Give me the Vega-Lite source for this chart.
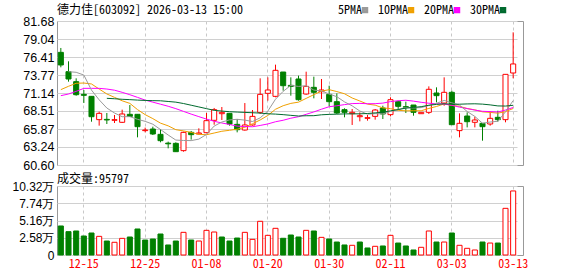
{
  "$schema": "https://vega.github.io/schema/vega-lite/v6.json",
  "padding": {"left": 0, "top": 3, "right": 0, "bottom": 0},
  "background": "white",
  "spacing": 0,
  "config": {
    "view": {"stroke": "#999999", "strokeWidth": 1},
    "axis": {"labelFont": "Liberation Sans", "labelFontSize": 12, "labelColor": "#000000", "ticks": false, "domain": false, "title": null, "labelOverlap": false},
    "title": {"font": "Noto Sans Mono CJK SC, Liberation Mono", "fontSize": 12, "fontWeight": "normal", "color": "#000000", "anchor": "start", "frame": "group"}
  },
  "datasets": {
    "k": [
      {"d":"12-10","o":77.09,"h":77.73,"l":74.90,"c":75.24,"v":43400,"vu":"down","5PMA":null,"10PMA":71.63,"20PMA":70.75,"30PMA":null},
      {"d":"12-11","o":74.26,"h":75.78,"l":72.80,"c":73.19,"v":34900,"vu":"down","5PMA":74.26,"10PMA":72.12,"20PMA":70.99,"30PMA":null},
      {"d":"12-12","o":72.80,"h":73.29,"l":70.75,"c":70.89,"v":35900,"vu":"down","5PMA":74.17,"10PMA":72.56,"20PMA":71.38,"30PMA":null},
      {"d":"12-15","o":70.94,"h":71.58,"l":69.68,"c":70.80,"v":28400,"vu":"down","5PMA":73.77,"10PMA":72.60,"20PMA":71.82,"30PMA":null},
      {"d":"12-16","o":70.65,"h":70.65,"l":66.94,"c":67.67,"v":32900,"vu":"down","5PMA":71.56,"10PMA":72.46,"20PMA":71.82,"30PMA":null},
      {"d":"12-17","o":67.24,"h":68.41,"l":66.36,"c":68.16,"v":27900,"vu":"up","5PMA":70.14,"10PMA":71.72,"20PMA":71.82,"30PMA":null},
      {"d":"12-18","o":67.28,"h":68.21,"l":66.60,"c":67.19,"v":20900,"vu":"down","5PMA":68.94,"10PMA":71.00,"20PMA":71.72,"30PMA":70.36},
      {"d":"12-19","o":67.14,"h":67.92,"l":66.75,"c":67.24,"v":19000,"vu":"up","5PMA":68.21,"10PMA":70.50,"20PMA":71.55,"30PMA":70.30},
      {"d":"12-22","o":66.85,"h":68.70,"l":66.75,"c":68.07,"v":24900,"vu":"up","5PMA":67.67,"10PMA":70.00,"20PMA":71.24,"30PMA":70.22},
      {"d":"12-23","o":68.02,"h":69.38,"l":67.63,"c":67.72,"v":26900,"vu":"down","5PMA":67.68,"10PMA":69.62,"20PMA":70.89,"30PMA":70.17},
      {"d":"12-24","o":68.02,"h":68.02,"l":64.65,"c":66.21,"v":38900,"vu":"down","5PMA":67.29,"10PMA":68.71,"20PMA":70.50,"30PMA":70.10},
      {"d":"12-25","o":65.63,"h":66.07,"l":65.38,"c":65.72,"v":22400,"vu":"down","5PMA":66.99,"10PMA":67.97,"20PMA":70.10,"30PMA":70.05},
      {"d":"12-26","o":65.87,"h":66.21,"l":64.99,"c":65.14,"v":23900,"vu":"down","5PMA":66.57,"10PMA":67.39,"20PMA":69.80,"30PMA":70.02},
      {"d":"12-29","o":65.09,"h":65.87,"l":63.92,"c":64.16,"v":31400,"vu":"down","5PMA":65.79,"10PMA":66.73,"20PMA":69.50,"30PMA":70.00},
      {"d":"12-30","o":63.80,"h":64.02,"l":63.04,"c":63.70,"v":15000,"vu":"down","5PMA":64.99,"10PMA":66.33,"20PMA":69.20,"30PMA":69.90},
      {"d":"12-31","o":63.77,"h":63.92,"l":62.55,"c":62.55,"v":20900,"vu":"down","5PMA":64.25,"10PMA":65.77,"20PMA":68.85,"30PMA":69.80},
      {"d":"01-05","o":62.70,"h":65.48,"l":62.55,"c":65.38,"v":33900,"vu":"up","5PMA":64.19,"10PMA":65.59,"20PMA":68.45,"30PMA":69.60},
      {"d":"01-06","o":65.38,"h":65.58,"l":64.31,"c":65.04,"v":22400,"vu":"down","5PMA":64.17,"10PMA":65.37,"20PMA":68.05,"30PMA":69.35},
      {"d":"01-07","o":65.14,"h":65.97,"l":65.09,"c":65.29,"v":20900,"vu":"up","5PMA":64.39,"10PMA":65.09,"20PMA":67.68,"30PMA":69.10},
      {"d":"01-08","o":65.33,"h":68.21,"l":65.24,"c":67.09,"v":36900,"vu":"up","5PMA":65.07,"10PMA":65.03,"20PMA":67.32,"30PMA":68.85},
      {"d":"01-09","o":67.14,"h":68.95,"l":66.50,"c":68.70,"v":34400,"vu":"up","5PMA":66.30,"10PMA":65.28,"20PMA":67.00,"30PMA":68.60},
      {"d":"01-12","o":68.11,"h":69.09,"l":67.19,"c":68.31,"v":26900,"vu":"down","5PMA":66.89,"10PMA":65.54,"20PMA":66.75,"30PMA":68.50},
      {"d":"01-13","o":68.16,"h":68.16,"l":66.36,"c":66.60,"v":20900,"vu":"down","5PMA":67.20,"10PMA":65.68,"20PMA":66.54,"30PMA":68.40},
      {"d":"01-14","o":66.55,"h":67.33,"l":65.38,"c":65.77,"v":25400,"vu":"down","5PMA":67.29,"10PMA":65.84,"20PMA":66.29,"30PMA":68.35},
      {"d":"01-15","o":65.72,"h":69.67,"l":65.63,"c":66.46,"v":33900,"vu":"up","5PMA":67.17,"10PMA":66.12,"20PMA":66.23,"30PMA":68.30},
      {"d":"01-16","o":66.46,"h":68.65,"l":66.36,"c":67.72,"v":23400,"vu":"up","5PMA":66.97,"10PMA":66.64,"20PMA":66.20,"30PMA":68.25},
      {"d":"01-19","o":68.31,"h":73.29,"l":68.07,"c":70.94,"v":50400,"vu":"up","5PMA":67.50,"10PMA":67.19,"20PMA":66.39,"30PMA":68.20},
      {"d":"01-20","o":71.09,"h":73.43,"l":70.02,"c":71.58,"v":29400,"vu":"up","5PMA":68.49,"10PMA":67.85,"20PMA":66.61,"30PMA":68.10},
      {"d":"01-21","o":70.65,"h":75.29,"l":70.51,"c":74.46,"v":39900,"vu":"up","5PMA":70.23,"10PMA":68.76,"20PMA":66.93,"30PMA":68.05},
      {"d":"01-22","o":74.21,"h":74.21,"l":71.48,"c":72.21,"v":25000,"vu":"down","5PMA":71.38,"10PMA":69.28,"20PMA":67.15,"30PMA":67.97},
      {"d":"01-23","o":72.26,"h":73.43,"l":70.75,"c":72.11,"v":29900,"vu":"down","5PMA":72.26,"10PMA":69.62,"20PMA":67.45,"30PMA":67.87},
      {"d":"01-26","o":73.19,"h":73.68,"l":70.02,"c":70.16,"v":26900,"vu":"down","5PMA":72.10,"10PMA":69.80,"20PMA":67.67,"30PMA":67.77},
      {"d":"01-27","o":70.99,"h":74.26,"l":70.89,"c":72.11,"v":36900,"vu":"up","5PMA":72.21,"10PMA":70.35,"20PMA":68.02,"30PMA":67.81},
      {"d":"01-28","o":71.97,"h":73.53,"l":70.36,"c":71.24,"v":35900,"vu":"down","5PMA":71.57,"10PMA":70.90,"20PMA":68.37,"30PMA":67.82},
      {"d":"01-29","o":71.33,"h":73.19,"l":70.26,"c":71.58,"v":26400,"vu":"up","5PMA":71.44,"10PMA":71.41,"20PMA":68.77,"30PMA":67.95},
      {"d":"01-30","o":70.94,"h":72.21,"l":69.19,"c":69.87,"v":23900,"vu":"down","5PMA":70.99,"10PMA":71.63,"20PMA":69.13,"30PMA":68.01},
      {"d":"02-02","o":69.87,"h":71.09,"l":68.07,"c":68.21,"v":19400,"vu":"down","5PMA":70.60,"10PMA":71.35,"20PMA":69.27,"30PMA":68.04},
      {"d":"02-03","o":68.70,"h":68.90,"l":67.58,"c":68.31,"v":15000,"vu":"down","5PMA":69.84,"10PMA":71.03,"20PMA":69.44,"30PMA":68.08},
      {"d":"02-04","o":68.11,"h":68.80,"l":66.46,"c":68.31,"v":14500,"vu":"up","5PMA":69.26,"10PMA":70.41,"20PMA":69.59,"30PMA":68.09},
      {"d":"02-05","o":67.67,"h":68.31,"l":66.99,"c":67.82,"v":19400,"vu":"down","5PMA":68.50,"10PMA":69.97,"20PMA":69.62,"30PMA":68.09},
      {"d":"02-06","o":67.43,"h":67.92,"l":67.09,"c":67.53,"v":10500,"vu":"down","5PMA":68.04,"10PMA":69.51,"20PMA":69.57,"30PMA":68.14},
      {"d":"02-09","o":67.72,"h":68.80,"l":67.24,"c":68.65,"v":13000,"vu":"up","5PMA":68.12,"10PMA":69.36,"20PMA":69.58,"30PMA":68.23},
      {"d":"02-10","o":68.94,"h":69.28,"l":67.33,"c":68.07,"v":13500,"vu":"down","5PMA":68.08,"10PMA":68.96,"20PMA":69.66,"30PMA":68.33},
      {"d":"02-11","o":67.97,"h":70.51,"l":67.72,"c":70.16,"v":29400,"vu":"up","5PMA":68.45,"10PMA":68.85,"20PMA":69.88,"30PMA":68.53},
      {"d":"02-12","o":69.87,"h":70.02,"l":68.70,"c":69.19,"v":17900,"vu":"down","5PMA":68.72,"10PMA":68.61,"20PMA":70.01,"30PMA":68.71},
      {"d":"02-13","o":69.14,"h":69.87,"l":68.21,"c":69.04,"v":13500,"vu":"down","5PMA":69.02,"10PMA":68.53,"20PMA":70.08,"30PMA":68.93},
      {"d":"02-24","o":69.38,"h":69.38,"l":67.82,"c":68.31,"v":7500,"vu":"down","5PMA":68.95,"10PMA":68.54,"20PMA":69.95,"30PMA":69.03},
      {"d":"02-25","o":68.11,"h":68.31,"l":68.11,"c":68.31,"v":11500,"vu":"up","5PMA":69.00,"10PMA":68.54,"20PMA":69.78,"30PMA":69.14},
      {"d":"02-26","o":68.31,"h":72.11,"l":68.07,"c":71.68,"v":35900,"vu":"up","5PMA":69.31,"10PMA":68.88,"20PMA":69.64,"30PMA":69.35},
      {"d":"02-27","o":71.14,"h":71.97,"l":69.77,"c":70.75,"v":19400,"vu":"down","5PMA":69.62,"10PMA":69.17,"20PMA":69.57,"30PMA":69.47},
      {"d":"03-02","o":69.67,"h":73.43,"l":69.28,"c":71.24,"v":19400,"vu":"up","5PMA":70.06,"10PMA":69.54,"20PMA":69.53,"30PMA":69.56},
      {"d":"03-03","o":71.24,"h":71.48,"l":66.50,"c":66.50,"v":32900,"vu":"down","5PMA":69.70,"10PMA":69.33,"20PMA":69.34,"30PMA":69.50},
      {"d":"03-04","o":65.63,"h":68.16,"l":64.65,"c":66.70,"v":14500,"vu":"up","5PMA":69.37,"10PMA":69.19,"20PMA":69.07,"30PMA":69.50},
      {"d":"03-05","o":67.77,"h":68.31,"l":66.11,"c":66.94,"v":10000,"vu":"up","5PMA":68.43,"10PMA":68.87,"20PMA":68.86,"30PMA":69.54},
      {"d":"03-06","o":66.85,"h":67.67,"l":66.11,"c":67.19,"v":7500,"vu":"up","5PMA":67.71,"10PMA":68.67,"20PMA":68.64,"30PMA":69.56},
      {"d":"03-09","o":66.70,"h":66.70,"l":64.16,"c":66.21,"v":19400,"vu":"down","5PMA":66.71,"10PMA":68.38,"20PMA":68.46,"30PMA":69.51},
      {"d":"03-10","o":66.60,"h":68.46,"l":66.36,"c":67.43,"v":17900,"vu":"up","5PMA":66.89,"10PMA":68.30,"20PMA":68.42,"30PMA":69.40},
      {"d":"03-11","o":67.58,"h":68.55,"l":66.94,"c":67.24,"v":17900,"vu":"down","5PMA":67.00,"10PMA":68.19,"20PMA":68.36,"30PMA":69.25},
      {"d":"03-12","o":67.24,"h":73.87,"l":66.85,"c":73.87,"v":69800,"vu":"up","5PMA":68.39,"10PMA":68.41,"20PMA":68.64,"30PMA":69.23},
      {"d":"03-13","o":74.07,"h":80.02,"l":73.29,"c":75.39,"v":95797,"vu":"up","5PMA":70.03,"10PMA":68.87,"20PMA":69.02,"30PMA":69.34}
    ]
  },
  "data": {"name": "k"},
  "vconcat": [
    {
      "width": 466,
      "height": 144,
      "title": {"text": "德力佳[603092] 2026-03-13 15:00", "offset": -2},
      "encoding": {
        "x": {
          "field": "d", "type": "ordinal", "sort": null,
          "scale": {"type": "band", "range": [0, 460], "paddingInner": 0, "paddingOuter": 0},
          "axis": {"values": ["12-15","12-25","01-08","01-20","01-30","02-11","03-03","03-13"], "labels": false, "grid": true, "gridDash": [3, 3], "gridColor": "#c8c8c8", "bandPosition": 0.5, "minExtent": 0, "maxExtent": 0}
        }
      },
      "layer": [
        {
          "mark": {"type": "rule", "strokeWidth": 1},
          "encoding": {
            "y": {"field": "l", "type": "quantitative", "scale": {"domain": [60.60, 81.68], "nice": false, "zero": false},
              "axis": {"values": [60.60, 63.24, 65.87, 68.51, 71.14, 73.77, 76.41, 79.04, 81.68], "format": ".2f", "grid": true, "gridColor": "#d0d0d0", "labelPadding": 3, "minExtent": 56, "maxExtent": 56, "labelFontSize": 12.5, "labelOverlap": false}},
            "y2": {"field": "h"},
            "stroke": {"condition": {"test": "datum.c >= datum.o", "value": "#ff0000"}, "value": "#008000"}
          }
        },
        {
          "mark": {"type": "bar", "width": {"band": 0.66}, "strokeWidth": 1},
          "encoding": {
            "y": {"field": "o", "type": "quantitative", "scale": {"domain": [60.60, 81.68], "nice": false, "zero": false},
              "axis": {"values": [60.60, 63.24, 65.87, 68.51, 71.14, 73.77, 76.41, 79.04, 81.68], "format": ".2f", "grid": true, "gridColor": "#d0d0d0", "labelPadding": 3, "minExtent": 56, "maxExtent": 56, "labelFontSize": 12.5, "labelOverlap": false}},
            "y2": {"field": "c"},
            "fill": {"condition": {"test": "datum.c >= datum.o", "value": "#ffffff"}, "value": "#008000"},
            "stroke": {"condition": {"test": "datum.c >= datum.o", "value": "#ff0000"}, "value": "#008000"}
          }
        },
        {
          "transform": [
            {"fold": ["5PMA", "10PMA", "20PMA", "30PMA"], "as": ["ma", "val"]},
            {"filter": "isValid(datum.val)"}
          ],
          "mark": {"type": "line", "strokeWidth": 1},
          "encoding": {
            "y": {"field": "val", "type": "quantitative", "scale": {"domain": [60.60, 81.68], "nice": false, "zero": false},
              "axis": {"values": [60.60, 63.24, 65.87, 68.51, 71.14, 73.77, 76.41, 79.04, 81.68], "format": ".2f", "grid": true, "gridColor": "#d0d0d0", "labelPadding": 3, "minExtent": 56, "maxExtent": 56, "labelFontSize": 12.5, "labelOverlap": false}},
            "color": {
              "field": "ma", "type": "nominal",
              "scale": {"domain": ["5PMA", "10PMA", "20PMA", "30PMA"], "range": ["#9a9a9a", "#f0a000", "#ff00ff", "#006a2e"]},
              "legend": {"orient": "none", "legendX": 302, "legendY": -17, "direction": "horizontal", "title": null,
                "symbolType": "square", "symbolSize": 12, "symbolStrokeWidth": 3,
                "labelFont": "Noto Sans Mono CJK SC, Liberation Mono", "labelFontSize": 12, "labelColor": "#000000",
                "labelAlign": "right", "labelOffset": -9, "columnPadding": 4}
            }
          }
        }
      ]
    },
    {
      "width": 466,
      "height": 69,
      "title": {"text": "成交量:95797", "offset": -6},
      "mark": {"type": "bar", "width": {"band": 0.66}, "strokeWidth": 1},
      "encoding": {
        "x": {
          "field": "d", "type": "ordinal", "sort": null,
          "scale": {"type": "band", "range": [0, 460], "paddingInner": 0, "paddingOuter": 0},
          "axis": {"values": ["12-15","12-25","01-08","01-20","01-30","02-11","03-03","03-13"], "labelAngle": 0, "labelColor": "#ff0000", "labelFont": "Noto Sans Mono CJK SC, Liberation Mono", "labelFontSize": 12, "labelPadding": 3, "grid": true, "gridDash": [3, 3], "gridColor": "#c8c8c8", "bandPosition": 0.5}
        },
        "y": {"field": "v", "type": "quantitative", "scale": {"domain": [0, 103200], "nice": false},
          "axis": {"values": [0, 25800, 51600, 77400, 103200], "labelExpr": "datum.value == 0 ? '0' : format(datum.value / 10000, '.2f') + '万'", "grid": true, "gridColor": "#d0d0d0", "labelPadding": 3, "minExtent": 56, "maxExtent": 56, "labelOverlap": false}},
        "fill": {"condition": {"test": "datum.vu == 'up'", "value": "#ffffff"}, "value": "#008000"},
        "stroke": {"condition": {"test": "datum.vu == 'up'", "value": "#ff0000"}, "value": "#008000"}
      }
    }
  ]
}
